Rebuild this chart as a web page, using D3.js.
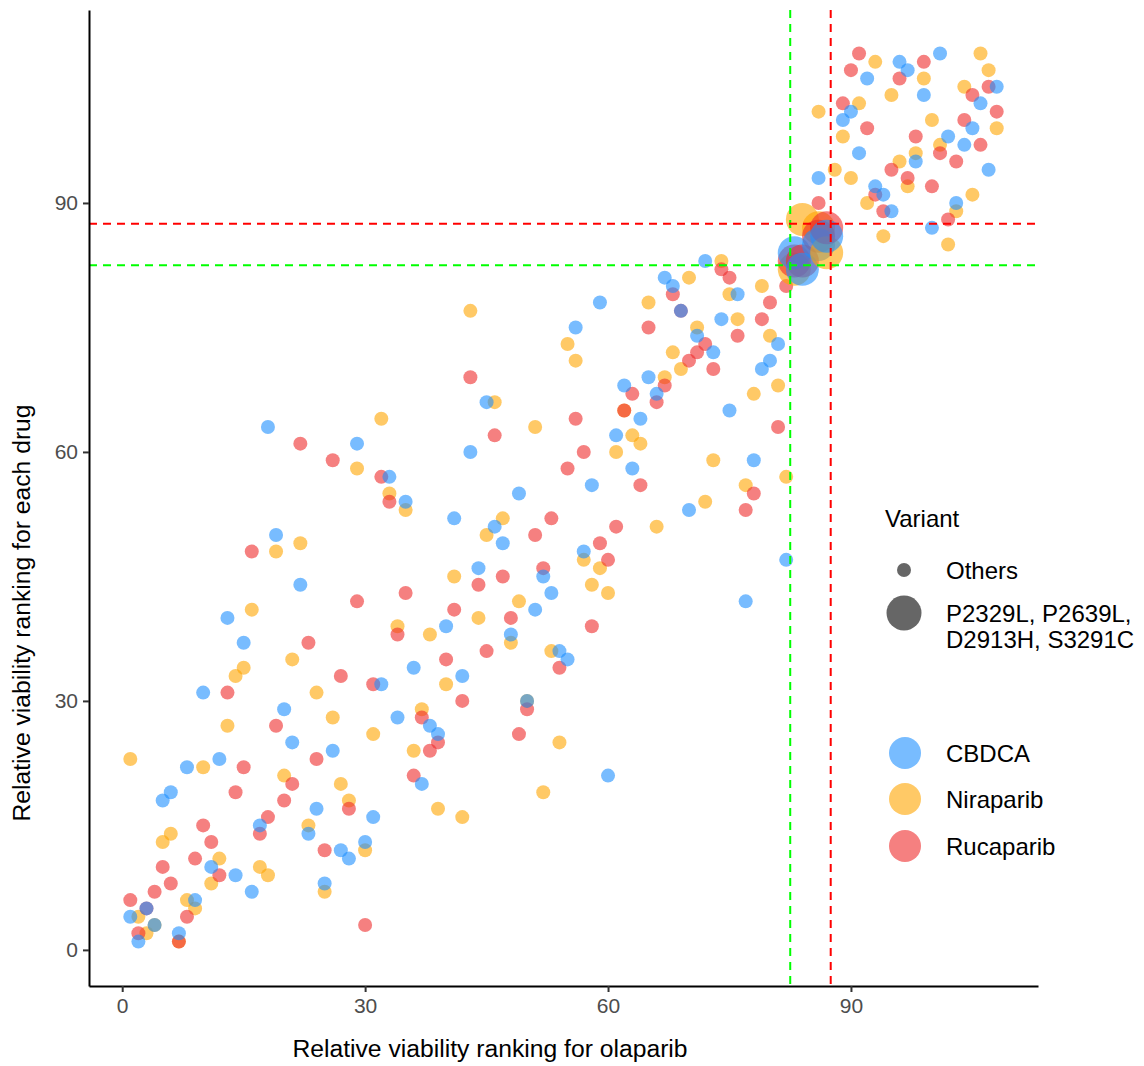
<!DOCTYPE html>
<meta charset="utf-8">
<script src="https://d3js.org/d3.v7.min.js"></script>
<style>
body { margin: 0; background: white; }
svg { font-family: "Liberation Sans", Arial, Helvetica, sans-serif; }
</style>
<div id="chart"></div>
<script>
// olaparib rank vs rank for each drug, [x, y] pairs
var cbdca = [[15,37],[10,31],[20,29],[26,24],[12,23],[8,22],[21,25],[6,19],[5,18],[24,17],[17,15],[23,14],[27,12],[11,10],[14,9],[16,7],[25,8],[9,6],[3,5],[1,4],[4,3],[2,1],[7,2],
  [18,63],[19,50],[22,44],[13,40],
  [56,75],[45,66],[29,61],[43,60],[33,57],[35,54],[49,55],[41,52],[46,51],[47,49],[57,48],[44,46],[52,45],[53,43],[51,41],[40,39],[48,38],[54,36],[55,35],
  [36,34],[32,32],[42,33],[50,30],[34,28],[38,27],[39,26],[37,20],[31,16],[30,13],[28,11],
  [72,83],[67,81],[68,80],[76,79],[59,78],[69,77],[74,76],[71,74],[81,73],[73,72],[80,71],[79,70],[62,68],[65,69],[66,67],[75,65],[64,64],[61,62],[78,59],[63,58],[58,56],[70,53],[82,47],[77,42],[60,21],
  [92,105],[90,101],[89,100],[91,96],[86,93],[96,107],[97,106],[101,108],[99,103],[108,104],[106,102],[105,99],[102,98],[104,97],[98,95],[107,94],[93,92],[94,91],[103,90],[95,89],[100,87]];

var niraparib = [[21,35],[15,34],[14,33],[24,31],[26,28],[13,27],[1,23],[10,22],[20,21],[27,20],[23,15],[6,14],[5,13],[12,11],[17,10],[18,9],[11,8],[25,7],[8,6],[9,5],[2,4],[3,2],[4,3],[7,1],
  [22,49],[19,48],[16,41],
  [43,77],[55,73],[56,71],[46,66],[32,64],[51,63],[29,58],[33,55],[35,53],[47,52],[45,50],[57,47],[41,45],[49,42],[44,40],[34,39],[38,38],[48,37],[53,36],
  [40,32],[37,29],[31,26],[54,25],[36,24],[52,19],[28,18],[39,17],[42,16],[30,12],[50,30],
  [74,83],[70,81],[75,79],[79,80],[65,78],[76,76],[71,75],[80,74],[68,72],[69,70],[67,69],[78,67],[81,68],[62,65],[63,62],[64,61],[61,60],[73,59],[82,57],[77,56],[72,54],[66,51],[59,46],[58,44],[60,43],
  [93,107],[86,101],[91,102],[89,98],[88,94],[90,93],[99,105],[95,103],[106,108],[107,106],[104,104],[100,100],[108,99],[101,97],[98,96],[96,95],[97,92],[105,91],[92,90],[103,89],[94,86],[102,85]];

var rucaparib = [[23,37],[27,33],[13,31],[19,27],[24,23],[15,22],[21,20],[14,19],[20,18],[18,16],[10,15],[17,14],[11,13],[25,12],[9,11],[5,10],[12,9],[6,8],[4,7],[1,6],[8,4],[3,5],[2,2],[7,1],
  [22,61],[26,59],[16,48],
  [43,69],[56,64],[46,62],[57,60],[55,58],[32,57],[33,54],[53,52],[51,50],[52,46],[47,45],[44,44],[35,43],[29,42],[41,41],[48,40],[34,38],[45,36],[40,35],
  [54,34],[31,32],[42,30],[50,29],[37,28],[49,26],[39,25],[38,24],[36,21],[28,17],[30,3],
  [74,82],[75,81],[68,79],[82,80],[80,78],[79,76],[69,77],[65,75],[76,74],[72,73],[71,72],[70,71],[73,70],[67,68],[63,67],[66,66],[62,65],[81,63],[64,56],[78,55],[77,53],[61,51],[59,49],[60,47],[58,39],
  [91,108],[90,106],[89,102],[92,99],[86,90],[99,107],[96,105],[105,103],[107,104],[108,101],[104,100],[98,98],[106,97],[101,96],[103,95],[95,94],[97,93],[100,92],[93,91],[94,89],[102,88]];

// the four highlighted variants (big points)
var bigVariants = ["P2329L", "P2639L", "D2913H", "S3291C"];
var bigX = [83, 84, 86, 87];
var bigCbdca = [84, 82, 85, 86];
var bigNiraparib = [82, 88, 87, 84];
var bigRucaparib = [83, 83, 86, 87];

var drugs = ["CBDCA", "Niraparib", "Rucaparib"];
var drugColors = ["#1E90FF", "#FFA500", "#EE2C2C"];
var xTicks = [0, 30, 60, 90];
var yTicks = [0, 30, 60, 90];
var greenCut = 82.5, redCut = 87.5;

var W = 1144, H = 1066;
var svg = d3.select("#chart").append("svg").attr("width", W).attr("height", H);

var x = d3.scaleLinear().domain([-4.1, 113.1]).range([89, 1038]);
var y = d3.scaleLinear().domain([-4.35, 113.25]).range([986, 10]);
var color = d3.scaleOrdinal().domain(drugs).range(drugColors);

// small points: orange first, then red, then blue on top
var small = [];
niraparib.forEach(function(d) { small.push({x: d[0], y: d[1], drug: "Niraparib"}); });
rucaparib.forEach(function(d) { small.push({x: d[0], y: d[1], drug: "Rucaparib"}); });
cbdca.forEach(function(d) { small.push({x: d[0], y: d[1], drug: "CBDCA"}); });

var big = [];
bigX.forEach(function(v, i) {
  big.push({x: v, y: bigNiraparib[i], drug: "Niraparib"});
  big.push({x: v, y: bigRucaparib[i], drug: "Rucaparib"});
  big.push({x: v, y: bigCbdca[i], drug: "CBDCA"});
});

svg.append("g").selectAll("circle").data(small).enter().append("circle")
  .attr("cx", function(d) { return x(d.x); })
  .attr("cy", function(d) { return y(d.y); })
  .attr("r", 7)
  .attr("fill", function(d) { return color(d.drug); })
  .attr("fill-opacity", 0.6);

svg.append("g").selectAll("circle").data(big).enter().append("circle")
  .attr("cx", function(d) { return x(d.x); })
  .attr("cy", function(d) { return y(d.y); })
  .attr("r", 16.5)
  .attr("fill", function(d) { return color(d.drug); })
  .attr("fill-opacity", 0.6);

// cut-off lines
var lines = svg.append("g").attr("fill", "none").attr("stroke-width", 2).attr("stroke-dasharray", "8,6");
[[greenCut, "#00FF00"], [redCut, "#FF0000"]].forEach(function(c) {
  lines.append("line").attr("x1", x(c[0])).attr("x2", x(c[0])).attr("y1", 10).attr("y2", 986).attr("stroke", c[1]);
  lines.append("line").attr("x1", 89).attr("x2", 1038).attr("y1", y(c[0])).attr("y2", y(c[0])).attr("stroke", c[1]);
});

// axes
var xAxis = svg.append("g").attr("transform", "translate(0,986)")
  .call(d3.axisBottom(x).tickValues(xTicks).tickSizeInner(6).tickSizeOuter(0).tickPadding(6));
var yAxis = svg.append("g").attr("transform", "translate(89,0)")
  .call(d3.axisLeft(y).tickValues(yTicks).tickSizeInner(6).tickSizeOuter(0).tickPadding(5));
[xAxis, yAxis].forEach(function(a) {
  a.select(".domain").attr("stroke", "black").attr("stroke-width", 2);
  a.selectAll(".tick line").attr("stroke", "#333").attr("stroke-width", 2);
  a.selectAll(".tick text").attr("fill", "#4D4D4D").style("font-size", "21px");
});

svg.append("text").attr("x", 490).attr("y", 1057).attr("text-anchor", "middle")
  .style("font-size", "24.7px").text("Relative viability ranking for olaparib");
svg.append("text").attr("transform", "translate(30,613) rotate(-90)").attr("text-anchor", "middle")
  .style("font-size", "24.7px").text("Relative viability ranking for each drug");

// legend
var leg = svg.append("g").style("font-size", "24px");
leg.append("text").attr("x", 885).attr("y", 527).text("Variant");
leg.append("circle").attr("cx", 904).attr("cy", 570).attr("r", 7).attr("fill", "black").attr("fill-opacity", 0.6);
leg.append("text").attr("x", 946).attr("y", 579).text("Others");
leg.append("circle").attr("cx", 904).attr("cy", 613).attr("r", 17.5).attr("fill", "black").attr("fill-opacity", 0.6);
leg.append("text").attr("x", 946).attr("y", 622).text(bigVariants.slice(0, 2).join(", ") + ",");
leg.append("text").attr("x", 946).attr("y", 648).text(bigVariants.slice(2).join(", "));

var legY = [753, 799, 846];
drugs.forEach(function(dn, i) {
  leg.append("circle").attr("cx", 905).attr("cy", legY[i]).attr("r", 16).attr("fill", color(dn)).attr("fill-opacity", 0.6);
  leg.append("text").attr("x", 946).attr("y", legY[i] + 8.5).text(dn);
});
</script>
